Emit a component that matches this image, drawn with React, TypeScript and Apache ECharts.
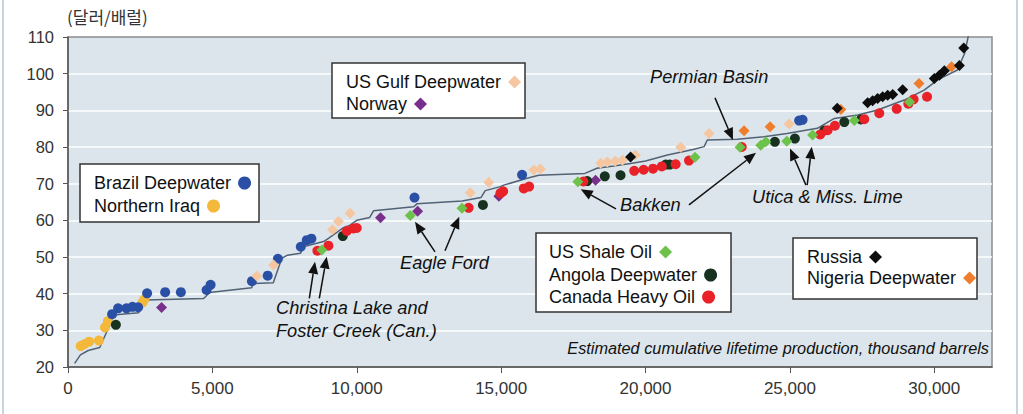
import React, { useEffect, useRef } from "react";
import * as echarts from "echarts";

const FONT = '"Liberation Sans", Arial, Helvetica, sans-serif';

// axis ticks
const xTicks = [0, 5000, 10000, 15000, 20000, 25000, 30000];
const yTicks = [20, 30, 40, 50, 60, 70, 80, 90, 100, 110];

// cost curve (estimated cumulative lifetime production vs breakeven)
const curveX = [230, 430, 700, 1100, 1500, 1560, 2450, 2700, 4700, 4900, 6360, 6420, 7110, 7400, 7600, 8050, 8150, 8850, 9020, 9540, 9770, 10000, 10450, 10580, 11970, 12085, 13650, 14300, 14450, 14975, 15090, 15900, 16300, 17900, 18320, 18900, 19480, 20000, 20760, 21650, 22030, 22140, 23180, 24100, 24900, 25950, 26540, 27350, 28040, 28960, 29650, 30120, 30800, 31050, 31200];
const curveY = [21, 23.3, 24.5, 25.3, 32.4, 34.2, 34.8, 38.3, 38.7, 40.3, 41.6, 42.8, 43, 49.6, 50.5, 51, 52.8, 54.2, 55.1, 58, 58.7, 60, 60.8, 62.6, 63.7, 64.5, 65.3, 66.2, 68.1, 69.2, 69.6, 71.5, 72.3, 72.8, 74.2, 74.8, 75.5, 76.2, 77.8, 79.3, 80.1, 81.9, 82.1, 82.8, 83.7, 85.1, 87.8, 88.7, 90.1, 92.8, 95.5, 98.3, 101, 105.5, 111];

// Brazil Deepwater (blue circles)
const brazilX = [1527, 1735, 2025, 2233, 2428, 2740, 3365, 3909, 4800, 4938, 6370, 6915, 7270, 8062, 8268, 8430, 12000, 15726, 25320, 25440];
const brazilY = [34.4, 36.0, 36.0, 36.4, 36.3, 40.1, 40.4, 40.4, 41.0, 42.4, 43.4, 44.9, 49.5, 52.8, 54.6, 55.0, 66.2, 72.4, 87.2, 87.4];

// Northern Iraq (yellow circles)
const iraqX = [440, 560, 730, 1070, 1280, 1380, 2580, 2640];
const iraqY = [25.7, 26.2, 26.9, 27.2, 30.8, 32.5, 37.6, 38.4];

// US Gulf Deepwater (peach diamonds)
const gulfX = [6535, 7120, 9160, 9365, 9771, 13932, 14570, 16132, 16360, 18450, 18680, 18950, 19200, 19650, 21220, 22200, 24975];
const gulfY = [44.8, 47.8, 57.4, 59.7, 61.9, 67.5, 70.4, 73.7, 74.0, 75.6, 75.9, 76.1, 76.4, 77.8, 79.9, 83.7, 86.3];

// Norway (purple diamonds)
const norwayX = [3240, 10823, 12108, 14922, 18270];
const norwayY = [36.2, 60.7, 62.5, 66.6, 70.9];

// US Shale Oil (green diamonds)
const shaleX = [8790, 11852, 13645, 17657, 21714, 23274, 23992, 24166, 24894, 25785, 27230, 29145];
const shaleY = [51.9, 61.3, 63.3, 70.5, 77.2, 79.9, 80.5, 81.4, 81.6, 83.3, 87.2, 92.3];

// Angola Deepwater (dark green circles)
const angolaX = [1658, 9517, 14370, 17982, 18590, 19136, 20704, 20840, 24480, 25173, 26192, 26885, 27461];
const angolaY = [31.5, 55.7, 64.2, 70.7, 72.0, 72.3, 75.2, 75.2, 81.4, 82.3, 84.5, 86.8, 87.5];

// Canada Heavy Oil (red circles)
const canadaX = [8637, 9018, 9657, 9886, 10000, 13874, 14975, 15070, 15784, 15970, 17850, 19610, 19935, 20260, 20565, 21045, 21507, 23333, 26050, 26307, 26560, 27577, 28096, 28700, 29102, 29285, 29750];
const canadaY = [51.7, 53.1, 57.1, 57.8, 57.9, 63.4, 67.4, 67.9, 68.7, 69.2, 70.6, 73.5, 73.8, 74.1, 74.7, 75.3, 76.3, 80.0, 83.4, 84.6, 85.8, 87.6, 89.2, 90.4, 91.8, 93.0, 93.7];

// Russia (black diamonds)
const russiaX = [19483, 26640, 27693, 27866, 28040, 28214, 28387, 28560, 28907, 30003, 30177, 30350, 30870, 31022];
const russiaY = [77.3, 90.6, 92.1, 92.6, 93.2, 93.7, 94.1, 94.3, 95.6, 98.7, 99.6, 100.8, 102.2, 107.0];

// Nigeria Deepwater (orange diamonds)
const nigeriaX = [23413, 24316, 26767, 29472, 30600];
const nigeriaY = [84.4, 85.5, 90.2, 97.3, 101.9];

// legend boxes: series names per box
const legendGroups = [
  ["Brazil Deepwater", "Northern Iraq"],
  ["US Gulf Deepwater", "Norway"],
  ["US Shale Oil", "Angola Deepwater", "Canada Heavy Oil"],
  ["Russia", "Nigeria Deepwater"],
];

// annotation arrows in data coordinates: [fromX, fromY, tipX, tipY]
const arrows = [
  [22407, 93.4, 23030, 81.9], // Permian Basin
  [18978, 63.1, 17756, 68.5], // Bakken
  [21506, 64.2, 23827, 78.4], // Bakken
  [25558, 69.6, 25004, 79.6], // Utica
  [25600, 69.6, 25756, 80.1], // Miss. Lime
  [12710, 51.4, 12017, 59.6], // Eagle Ford
  [13056, 51.7, 13551, 61.0], // Eagle Ford
  [8357, 38.7, 8554, 48.7], // Christina Lake
  [8703, 38.7, 8959, 50.1], // Foster Creek
];

const zip = (xs: number[], ys: number[]) => xs.map((x, i) => [x, ys[i]]);

// layout of the legend boxes (pixels): box rect, text start x, item centre ys
const boxLayout = [
  { box: [80, 164, 179, 58], tx: 94, ys: [183, 206] },
  { box: [332, 63, 193, 55], tx: 346, ys: [82, 104] },
  { box: [536, 233, 195, 79], tx: 549, ys: [252, 275, 297] },
  { box: [793, 238, 184, 61], tx: 807, ys: [257, 278] },
];

export default function App() {
  const ref = useRef<HTMLDivElement>(null);
  useEffect(() => {
    if (!ref.current) return;
    const chart = echarts.init(ref.current, null, { renderer: "svg" });

    const scatter = (name: string, xs: number[], ys: number[], color: string, symbol: string, size: number) => ({
      name,
      type: "scatter",
      data: zip(xs, ys),
      symbol,
      symbolSize: size,
      itemStyle: { color, opacity: 1 },
      z: 2,
      emphasis: { disabled: true },
    });

    const legends: any[] = [];
    legendGroups.forEach((names, gi) => {
      const lay = boxLayout[gi];
      names.forEach((name, i) => {
        legends.push({
          data: [name],
          orient: "horizontal",
          align: "right",
          left: lay.tx,
          top: lay.ys[i] - 9,
          padding: 0,
          itemWidth: 13,
          itemHeight: 13,
          selectedMode: false,
          z: 6,
          textStyle: { fontSize: 18, color: "#111", fontFamily: FONT, padding: [0, 2, 0, 0] },
        });
      });
    });

    const option: any = {
      animation: false,
      backgroundColor: "#fff",
      title: {
        text: "(달러/배럴)",
        left: 67,
        top: 8,
        padding: 0,
        textStyle: { fontSize: 17, fontWeight: "normal", color: "#333", fontFamily: '"Noto Sans CJK KR", sans-serif' },
      },
      grid: {
        left: 68,
        top: 37,
        width: 924,
        height: 330,
        show: true,
        backgroundColor: "#dce5eb",
        borderColor: "#8c8c8c",
        borderWidth: 1.5,
      },
      xAxis: {
        type: "value",
        min: 0,
        max: 32000,
        interval: 5000,
        axisLine: { show: true, lineStyle: { color: "#555", width: 1.5 } },
        axisTick: { show: true, length: 6, lineStyle: { color: "#555" }, customValues: xTicks },
        axisLabel: {
          customValues: xTicks,
          margin: 13,
          fontSize: 17,
          color: "#333",
          fontFamily: FONT,
          formatter: (v: number) => v.toLocaleString("en-US"),
        },
        splitLine: { show: false },
      },
      yAxis: {
        type: "value",
        min: 20,
        max: 110,
        interval: 10,
        axisLine: { show: true, lineStyle: { color: "#555", width: 1.5 } },
        axisTick: { show: true, length: 5, lineStyle: { color: "#555" }, customValues: yTicks },
        axisLabel: { customValues: yTicks, margin: 14, fontSize: 16.5, color: "#333", fontFamily: FONT },
        splitLine: { show: true, showMinLine: false, showMaxLine: false, lineStyle: { color: "#fff", width: 1.5 } },
      },
      legend: legends,
      series: [
        {
          name: "cost curve",
          type: "line",
          data: zip(curveX, curveY),
          showSymbol: false,
          symbol: "none",
          lineStyle: { color: "#526275", width: 1.5 },
          z: 1,
          emphasis: { disabled: true },
        },
        scatter("Northern Iraq", iraqX, iraqY, "#f4b83a", "circle", 10),
        scatter("Brazil Deepwater", brazilX, brazilY, "#2a50a6", "circle", 10),
        scatter("US Gulf Deepwater", gulfX, gulfY, "#f6c6a0", "diamond", 11),
        scatter("Norway", norwayX, norwayY, "#7a2f8c", "diamond", 11),
        scatter("Angola Deepwater", angolaX, angolaY, "#17331f", "circle", 10),
        scatter("Canada Heavy Oil", canadaX, canadaY, "#e82228", "circle", 10),
        scatter("US Shale Oil", shaleX, shaleY, "#6cc24a", "diamond", 11),
        scatter("Nigeria Deepwater", nigeriaX, nigeriaY, "#ef7e2c", "diamond", 11),
        scatter("Russia", russiaX, russiaY, "#0d0d0d", "diamond", 11),
      ],
    };
    chart.setOption(option);

    const annFont = { fontSize: 18.2, fontStyle: "italic", fontFamily: FONT, fill: "#111" };
    const label = (text: string, x: number, y: number, extra: any = {}) => ({
      type: "text",
      x,
      y,
      z: 100,
      style: { text, ...annFont, verticalAlign: "middle", textVerticalAlign: "middle", align: "left", ...extra },
    });

    const graphics: any[] = [
      { type: "line", shape: { x1: 3, y1: 0, x2: 3, y2: 414 }, style: { stroke: "#c6d6e0", lineWidth: 2 } },
      { type: "line", shape: { x1: 1017, y1: 0, x2: 1017, y2: 414 }, style: { stroke: "#c6d6e0", lineWidth: 2 } },
      label("Permian Basin", 650, 77),
      label("Bakken", 620, 205),
      label("Utica & Miss. Lime", 752, 197),
      label("Eagle Ford", 400, 263),
      label("Christina Lake and", 276, 308),
      label("Foster Creek (Can.)", 276, 331),
      label("Estimated cumulative lifetime production, thousand barrels", 989, 348, { fontSize: 16.3, align: "right", textAlign: "right" }),
    ];

    boxLayout.forEach((lay) => {
      const [bx, by, bw, bh] = lay.box;
      graphics.push({
        type: "rect",
        z: 5,
        shape: { x: bx, y: by, width: bw, height: bh },
        style: { fill: "#fff", stroke: "#333", lineWidth: 1.5 },
      });
    });

    arrows.forEach(([fx, fy, tx, ty]) => {
      const p0 = chart.convertToPixel({ gridIndex: 0 }, [fx, fy]) as number[];
      const p1 = chart.convertToPixel({ gridIndex: 0 }, [tx, ty]) as number[];
      const dx = p1[0] - p0[0];
      const dy = p1[1] - p0[1];
      const len = Math.sqrt(dx * dx + dy * dy);
      const ux = dx / len;
      const uy = dy / len;
      const headLen = 12;
      const headW = 5;
      const bx = p1[0] - ux * headLen;
      const by = p1[1] - uy * headLen;
      graphics.push({
        type: "line",
        z: 100,
        shape: { x1: p0[0], y1: p0[1], x2: bx, y2: by },
        style: { stroke: "#111", lineWidth: 1.5 },
      });
      graphics.push({
        type: "polygon",
        z: 100,
        shape: {
          points: [
            [p1[0], p1[1]],
            [bx - uy * headW, by + ux * headW],
            [bx + uy * headW, by - ux * headW],
          ],
        },
        style: { fill: "#111" },
      });
    });

    chart.setOption({ graphic: graphics });

    return () => chart.dispose();
  }, []);

  return (
    <div
      ref={ref}
      style={{ position: "fixed", left: 0, top: 0, width: 1023, height: 414, background: "#fff" }}
    />
  );
}
